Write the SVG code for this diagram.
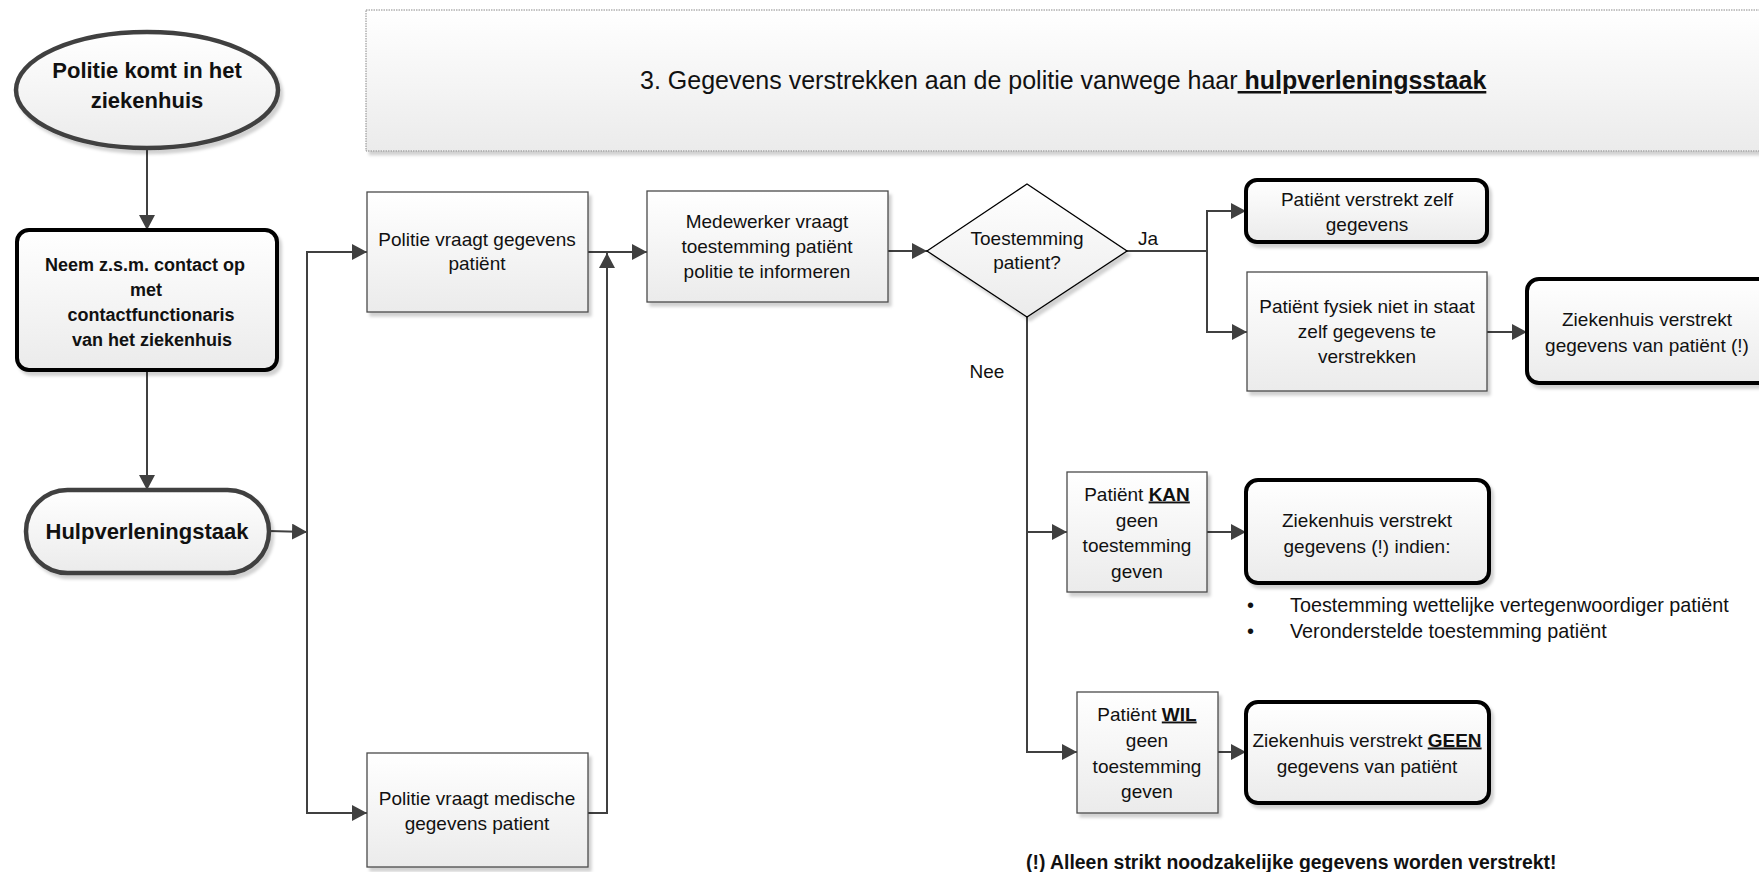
<svg xmlns="http://www.w3.org/2000/svg" width="1759" height="872" viewBox="0 0 1759 872">
<style>
text{font-family:"Liberation Sans",Arial,sans-serif;fill:#111;font-size:19px}
.c{text-anchor:middle}
.b{font-weight:bold}
.box{fill:url(#g);stroke:#4a4a4a;stroke-width:1.3}
.thick{fill:url(#g);stroke:#000;stroke-width:4}
.round{fill:url(#g);stroke:#404040;stroke-width:4.5}
.conn{fill:none;stroke:#404040;stroke-width:2}
</style>
<defs>
<linearGradient id="g" x1="0" y1="0" x2="0" y2="1">
<stop offset="0" stop-color="#ffffff"/>
<stop offset="1" stop-color="#ebebeb"/>
</linearGradient>
<filter id="sh" x="-10%" y="-10%" width="130%" height="130%">
<feDropShadow dx="3" dy="4" stdDeviation="1.5" flood-color="#000" flood-opacity="0.18"/>
</filter>
<marker id="ar" markerUnits="userSpaceOnUse" markerWidth="16" markerHeight="16" refX="15" refY="8" orient="auto">
<path d="M0,0 L15,8 L0,16 z" fill="#404040"/>
</marker>
</defs>

<g id="title">
<rect x="366" y="10" width="1410" height="141" fill="url(#g)" stroke="#888" stroke-width="1" stroke-dasharray="1.5,1" filter="url(#sh)"/>
<text x="640" y="89" style="font-size:25px">3. Gegevens verstrekken aan de politie vanwege haar<tspan class="b" text-decoration="underline"> hulpverleningsstaak</tspan></text>
</g>

<g id="connectors">
<path class="conn" d="M147,148 L147,230" marker-end="url(#ar)"/>
<path class="conn" d="M147,370 L147,490" marker-end="url(#ar)"/>
<path class="conn" d="M269,531 L307,532" marker-end="url(#ar)"/>
<path class="conn" d="M307,532 L307,252 L367,252" marker-end="url(#ar)"/>
<path class="conn" d="M307,532 L307,813 L367,813" marker-end="url(#ar)"/>
<path class="conn" d="M588,252 L647,252" marker-end="url(#ar)"/>
<path class="conn" d="M588,813 L607,813 L607,253" marker-end="url(#ar)"/>
<path class="conn" d="M888,251 L927,251" marker-end="url(#ar)"/>
<path class="conn" d="M1127,251 L1207,251 L1207,211 L1246,211" marker-end="url(#ar)"/>
<path class="conn" d="M1207,251 L1207,332 L1247,332" marker-end="url(#ar)"/>
<path class="conn" d="M1487,332 L1527,332" marker-end="url(#ar)"/>
<path class="conn" d="M1027,317 L1027,532 L1067,532" marker-end="url(#ar)"/>
<path class="conn" d="M1027,532 L1027,752 L1077,752" marker-end="url(#ar)"/>
<path class="conn" d="M1207,532 L1246,532" marker-end="url(#ar)"/>
<path class="conn" d="M1218,752 L1246,752" marker-end="url(#ar)"/>
<text x="1138" y="244.5">Ja</text>
<text class="c" x="987" y="377.5">Nee</text>
</g>

<g id="n-start">
<ellipse cx="147" cy="90" rx="131" ry="58" class="round" filter="url(#sh)"/>
<text class="c b" x="147" y="77.5" style="font-size:22px">Politie komt in het</text>
<text class="c b" x="147" y="108" style="font-size:22px">ziekenhuis</text>
</g>

<g id="n-contact">
<rect x="17" y="230" width="260" height="140" rx="12" class="thick" filter="url(#sh)"/>
<text class="c b" x="145" y="271" style="font-size:18px">Neem z.s.m. contact op</text>
<text class="c b" x="146" y="296" style="font-size:18px">met</text>
<text class="c b" x="151" y="321" style="font-size:18px">contactfunctionaris</text>
<text class="c b" x="152" y="346" style="font-size:18px">van het ziekenhuis</text>
</g>

<g id="n-hulp">
<rect x="26" y="490" width="243" height="83" rx="41.5" class="round" filter="url(#sh)"/>
<text class="c b" x="147" y="539" style="font-size:22px">Hulpverleningstaak</text>
</g>

<g id="n-vraagt">
<rect x="367" y="192" width="221" height="120" class="box" filter="url(#sh)"/>
<text class="c" x="477" y="245.5">Politie vraagt gegevens</text>
<text class="c" x="477" y="269.5">patiënt</text>
</g>

<g id="n-medisch">
<rect x="367" y="753" width="221" height="114" class="box" filter="url(#sh)"/>
<text class="c" x="477" y="804.5">Politie vraagt medische</text>
<text class="c" x="477" y="829.5">gegevens patient</text>
</g>

<g id="n-medewerker">
<rect x="647" y="191" width="241" height="111" class="box" filter="url(#sh)"/>
<text class="c" x="767" y="227.5">Medewerker vraagt</text>
<text class="c" x="767" y="252.5">toestemming patiënt</text>
<text class="c" x="767" y="277.5">politie te informeren</text>
</g>

<g id="n-toestemming">
<polygon points="927,251 1027,184 1127,251 1027,317" fill="url(#g)" stroke="#000" stroke-width="1.3" filter="url(#sh)"/>
<text class="c" x="1027" y="244.5">Toestemming</text>
<text class="c" x="1027" y="268.5">patient?</text>
</g>

<g id="n-zelf">
<rect x="1246" y="180" width="241" height="62" rx="11" class="thick" filter="url(#sh)"/>
<text class="c" x="1367" y="205.5">Patiënt verstrekt zelf</text>
<text class="c" x="1367" y="230.5">gegevens</text>
</g>

<g id="n-fysiek">
<rect x="1247" y="272" width="240" height="119" class="box" filter="url(#sh)"/>
<text class="c" x="1367" y="312.5">Patiënt fysiek niet in staat</text>
<text class="c" x="1367" y="337.5">zelf gegevens te</text>
<text class="c" x="1367" y="362.5">verstrekken</text>
</g>

<g id="n-zh1">
<rect x="1527" y="279" width="260" height="104" rx="12" class="thick" filter="url(#sh)"/>
<text class="c" x="1647" y="325.5">Ziekenhuis verstrekt</text>
<text class="c" x="1647" y="351.5">gegevens van patiënt (!)</text>
</g>

<g id="n-kan">
<rect x="1067" y="472" width="140" height="120" class="box" filter="url(#sh)"/>
<text class="c" x="1137" y="500.5">Patiënt <tspan class="b" text-decoration="underline">KAN</tspan></text>
<text class="c" x="1137" y="526.5">geen</text>
<text class="c" x="1137" y="551.5">toestemming</text>
<text class="c" x="1137" y="577.5">geven</text>
</g>

<g id="n-zh2">
<rect x="1246" y="480" width="243" height="103" rx="12" class="thick" filter="url(#sh)"/>
<text class="c" x="1367" y="526.5">Ziekenhuis verstrekt</text>
<text class="c" x="1367" y="552.5">gegevens (!) indien:</text>
</g>

<g id="bullets">
<text x="1247" y="611.5" style="font-size:20px">•</text>
<text x="1290" y="611.5" style="font-size:19.8px">Toestemming wettelijke vertegenwoordiger patiënt</text>
<text x="1247" y="637.5" style="font-size:20px">•</text>
<text x="1290" y="637.5" style="font-size:19.8px">Veronderstelde toestemming patiënt</text>
</g>

<g id="n-wil">
<rect x="1077" y="692" width="141" height="121" class="box" filter="url(#sh)"/>
<text class="c" x="1147" y="720.5">Patiënt <tspan class="b" text-decoration="underline">WIL</tspan></text>
<text class="c" x="1147" y="746.5">geen</text>
<text class="c" x="1147" y="772.5">toestemming</text>
<text class="c" x="1147" y="797.5">geven</text>
</g>

<g id="n-zh3">
<rect x="1246" y="702" width="243" height="101" rx="12" class="thick" filter="url(#sh)"/>
<text class="c" x="1367" y="746.5">Ziekenhuis verstrekt <tspan class="b" text-decoration="underline">GEEN</tspan></text>
<text class="c" x="1367" y="772.5">gegevens van patiënt</text>
</g>

<g id="footnote">
<text class="b" x="1026" y="869" style="font-size:19.4px">(!) Alleen strikt noodzakelijke gegevens worden verstrekt!</text>
</g>
</svg>
